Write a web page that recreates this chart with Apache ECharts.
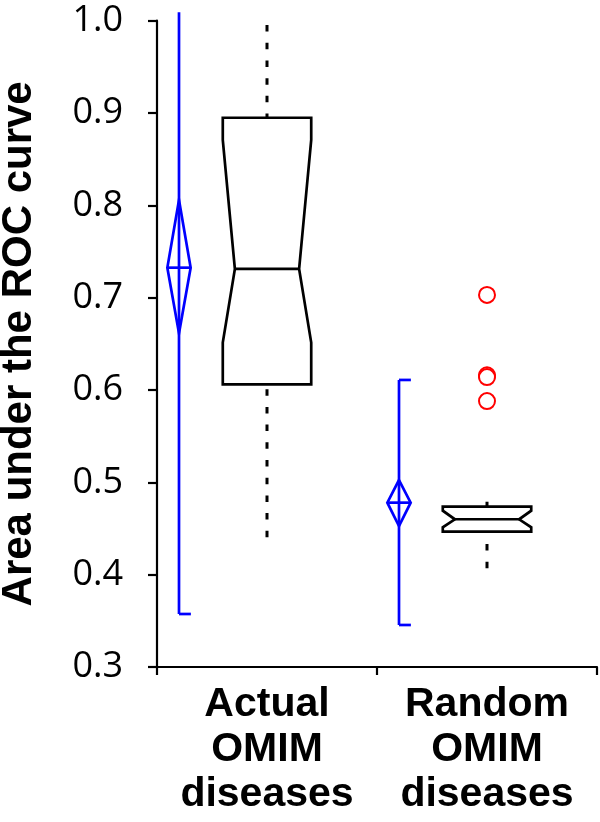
<!DOCTYPE html>
<html>
<head>
<meta charset="utf-8">
<script src="https://cdn.jsdelivr.net/npm/echarts@6/dist/echarts.min.js"></script>
<style>html,body{margin:0;padding:0;background:#fff;}#c{width:600px;height:822px;}</style>
</head>
<body>
<div id="c"></div>
<script>
// ---- data ----
var categories = ['Actual\nOMIM\ndiseases', 'Random\nOMIM\ndiseases'];
var yTicks = [0.3, 0.4, 0.5, 0.6, 0.7, 0.8, 0.9, 1.0];
// box plot statistics (notched)
var whiskerLow  = [0.4405, 0.4069];
var q1          = [0.6062, 0.4466];
var notchLow    = [0.6513, 0.4513];
var median      = [0.7311, 0.4600];
var notchHigh   = [0.8708, 0.4693];
var q3          = [0.8949, 0.4736];
var whiskerHigh = [0.9953, 0.4790];
// outliers (Random group)
var outlierCat  = [1, 1, 1, 1];
var outlierVal  = [0.703, 0.616, 0.614, 0.588];
// mean diamonds with error bars (blue)
var barLow   = [0.3574, 0.3455];
var ciLow    = [0.6614, 0.4527];
var meanVal  = [0.7325, 0.4780];
var ciHigh   = [0.8058, 0.5025];
var barHigh  = [1.0091, 0.6109];

var yMin = 0.3, yMax = 1.0;

var boxData = categories.map(function (c, i) {
  return [i, whiskerLow[i], q1[i], notchLow[i], median[i], notchHigh[i], q3[i], whiskerHigh[i]];
});
var meanData = categories.map(function (c, i) {
  return [i, barLow[i], ciLow[i], meanVal[i], ciHigh[i], barHigh[i]];
});
var outlierData = outlierCat.map(function (c, i) { return [c, outlierVal[i]]; });

function renderBox(params, api) {
  var i = api.value(0);
  var band = api.size([1, 0])[0];
  var cx = api.coord([i, 0])[0];
  var hw = band * 0.201;
  var nw = band * 0.146;
  function Y(v) { return api.coord([i, v])[1]; }
  var wl = Y(api.value(1)), lo = Y(api.value(2)), nl = Y(api.value(3)),
      md = Y(api.value(4)), nh = Y(api.value(5)), hi = Y(api.value(6)), wh = Y(api.value(7));
  var L = cx - hw, R = cx + hw, NL = cx - nw, NR = cx + nw;
  var black = '#000';
  var dash = { stroke: black, lineWidth: 3, lineDash: [6.5, 11.2] };
  return {
    type: 'group',
    children: [
      { type: 'line', shape: { x1: cx, y1: wh, x2: cx, y2: hi }, style: dash },
      { type: 'line', shape: { x1: cx, y1: wl, x2: cx, y2: lo }, style: dash },
      { type: 'polygon', shape: { points: [[L, hi], [R, hi], [R, nh], [NR, md], [R, nl], [R, lo], [L, lo], [L, nl], [NL, md], [L, nh]] },
        style: { fill: '#fff', stroke: black, lineWidth: 2.7, lineJoin: 'miter' } },
      { type: 'line', shape: { x1: NL, y1: md, x2: NR, y2: md }, style: { stroke: black, lineWidth: 2.7 } }
    ]
  };
}

function renderMean(params, api) {
  var i = api.value(0);
  var band = api.size([1, 0])[0];
  var cx = api.coord([i, 0])[0] - band * 0.4;
  var dw = band * 0.053;
  var cap = band * 0.054;
  function Y(v) { return api.coord([i, v])[1]; }
  var bl = Y(api.value(1)), cl = Y(api.value(2)), m = Y(api.value(3)), ch = Y(api.value(4)), bh = Y(api.value(5));
  var blue = '#0000ff';
  var st = { stroke: blue, lineWidth: 2.7, fill: null };
  var kids = [
    { type: 'line', shape: { x1: cx, y1: bh, x2: cx, y2: bl }, style: st },
    { type: 'line', shape: { x1: cx, y1: bl, x2: cx + cap, y2: bl }, style: st },
    { type: 'polygon', shape: { points: [[cx, ch], [cx + dw, m], [cx, cl], [cx - dw, m]] }, style: { stroke: blue, lineWidth: 2.7, fill: 'none' } },
    { type: 'line', shape: { x1: cx - dw, y1: m, x2: cx + dw, y2: m }, style: st }
  ];
  if (api.value(5) <= yMax) {
    kids.push({ type: 'line', shape: { x1: cx, y1: bh, x2: cx + cap, y2: bh }, style: st });
  }
  return { type: 'group', children: kids };
}

var chart = echarts.init(document.getElementById('c'), null, { renderer: 'canvas' });
chart.setOption({
  animation: false,
  backgroundColor: '#fff',
  grid: { left: 157, right: 3, top: 20.7, bottom: 155, containLabel: false, outerBoundsMode: 'none' },
  xAxis: {
    type: 'category',
    data: categories,
    boundaryGap: true,
    axisLine: { show: true, lineStyle: { color: '#000', width: 2.2 } },
    axisTick: { show: true, alignWithLabel: false, length: 8, lineStyle: { color: '#000', width: 2.2 } },
    axisLabel: {
      color: '#000', fontFamily: 'Liberation Sans, Arial, sans-serif', fontWeight: 'bold',
      fontSize: 41, lineHeight: 45, margin: 15, interval: 0
    },
    splitLine: { show: false }
  },
  yAxis: {
    type: 'value',
    min: yMin, max: yMax, interval: 0.1,
    name: 'Area under the ROC curve',
    nameLocation: 'middle',
    nameRotate: 90,
    nameGap: 117,
    nameTextStyle: { color: '#000', fontFamily: 'Liberation Sans, Arial, sans-serif', fontWeight: 'bold', fontSize: 42 },
    axisLine: { show: true, lineStyle: { color: '#000', width: 2.2 } },
    axisTick: { show: true, inside: false, length: 9, lineStyle: { color: '#000', width: 2.2 } },
    axisLabel: {
      color: '#000', fontFamily: 'Open Sans, Noto Sans, sans-serif', fontSize: 36, margin: 34,
      formatter: function (v) { return v.toFixed(1); }
    },
    splitLine: { show: false }
  },
  series: [
    { type: 'custom', name: 'box', renderItem: renderBox, data: boxData, encode: { x: 0, y: [1, 2, 3, 4, 5, 6, 7] }, clip: false, z: 2 },
    { type: 'custom', name: 'mean', renderItem: renderMean, data: meanData, encode: { x: 0, y: [1, 2, 3, 4, 5] }, clip: false, z: 3 },
    { type: 'scatter', name: 'outliers', data: outlierData, symbol: 'emptyCircle', symbolSize: 16,
      itemStyle: { color: '#ff0000', borderColor: '#ff0000', borderWidth: 2.6, opacity: 1 }, z: 4 }
  ]
});
</script>
</body>
</html>
